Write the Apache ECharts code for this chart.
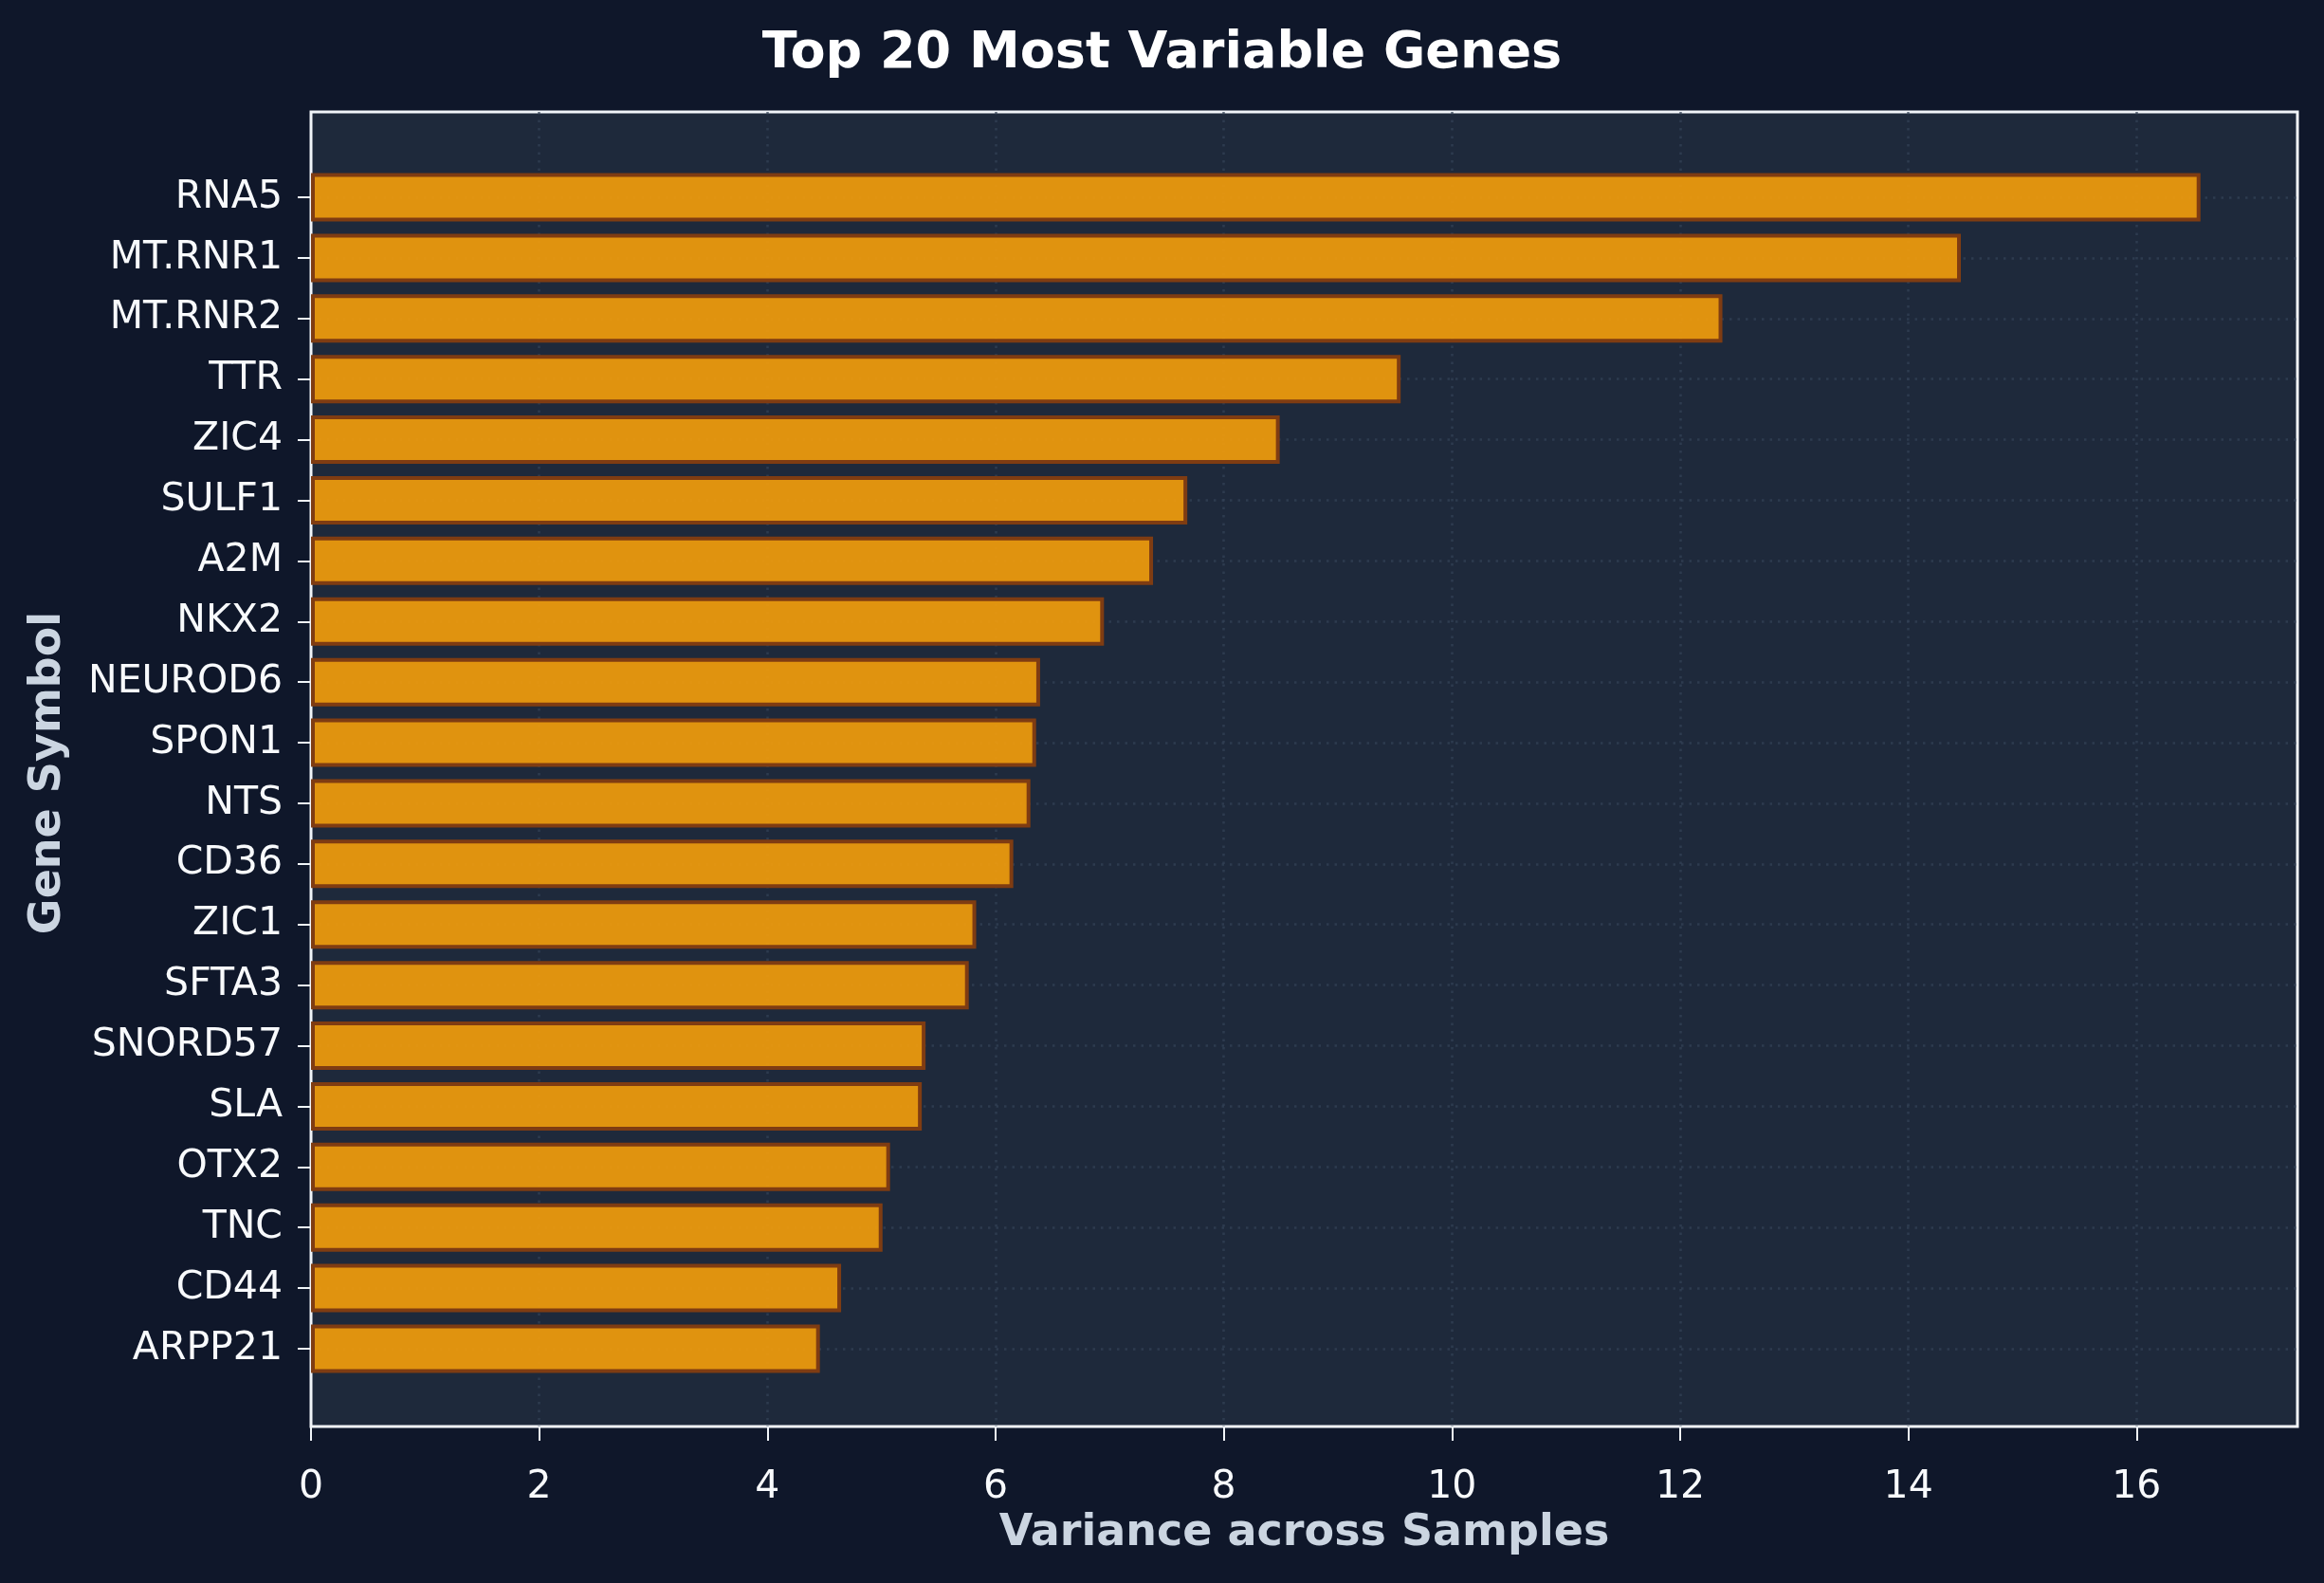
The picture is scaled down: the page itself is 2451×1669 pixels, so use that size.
<!DOCTYPE html>
<html>
<head>
<meta charset="utf-8">
<script src="https://cdn.jsdelivr.net/npm/echarts@6/dist/echarts.min.js"></script>
<style>
  html, body { margin: 0; padding: 0; background: #0f172a; }
  #chart { width: 2451px; height: 1669px; }
</style>
</head>
<body>
<div id="chart"></div>
<script>
// gene symbols, top to bottom
var genes = ['RNA5', 'MT.RNR1', 'MT.RNR2', 'TTR', 'ZIC4', 'SULF1', 'A2M', 'NKX2', 'NEUROD6', 'SPON1',
             'NTS', 'CD36', 'ZIC1', 'SFTA3', 'SNORD57', 'SLA', 'OTX2', 'TNC', 'CD44', 'ARPP21'];
// variance across samples
var variances = [16.56, 14.46, 12.37, 9.55, 8.49, 7.68, 7.38, 6.95, 6.39, 6.355,
                 6.305, 6.155, 5.83, 5.765, 5.386, 5.353, 5.075, 5.009, 4.646, 4.46];
var xTicks = [0, 2, 4, 6, 8, 10, 12, 14, 16];
var xMax = 17.41;

var font = 'DejaVu Sans';
var gridDots = { color: 'rgba(51,65,85,0.75)', width: 2.5, type: [2.5, 6] };

var chart = echarts.init(document.getElementById('chart'));

var option = {
    backgroundColor: '#0f172a',
    animation: false,
    title: {
        text: 'Top 20 Most Variable Genes',
        left: 'center',
        top: 25,
        textStyle: { color: '#ffffff', fontSize: 54, fontWeight: 'bold', fontFamily: font }
    },
    grid: [
        // bar band area: first and last category centres on the edges
        { left: 328, right: 28, top: 208, bottom: 247 },
        // full plot frame
        { left: 328, right: 28, top: 118, bottom: 165, show: true,
          backgroundColor: '#1e293b', borderColor: '#f1f5f9', borderWidth: 3 }
    ],
    xAxis: [
        { gridIndex: 0, type: 'value', min: 0, max: xMax, show: false },
        {
            gridIndex: 1, type: 'value', min: 0, max: xMax, interval: 2,
            name: 'Variance across Samples', nameLocation: 'middle', nameGap: 90,
            nameTextStyle: { color: '#cbd5e1', fontSize: 46, fontWeight: 'bold', fontFamily: font },
            axisLine: { show: false },
            axisTick: { show: true, length: 15, lineStyle: { color: '#f1f5f9', width: 2 } },
            axisLabel: {
                color: '#f8fafc', fontSize: 41, fontFamily: font, margin: 44, showMaxLabel: false,
                formatter: function (v) { return xTicks.indexOf(v) >= 0 ? String(v) : ''; }
            },
            splitLine: { show: true, showMinLine: false, showMaxLine: false, lineStyle: gridDots }
        }
    ],
    yAxis: [
        {
            gridIndex: 0, type: 'category', data: genes, inverse: true, boundaryGap: false,
            name: 'Gene Symbol', nameLocation: 'middle', nameGap: 254,
            nameTextStyle: { color: '#cbd5e1', fontSize: 46, fontWeight: 'bold', fontFamily: font },
            axisLine: { show: false },
            axisTick: { show: true, length: 14, lineStyle: { color: '#f1f5f9', width: 2 } },
            axisLabel: { color: '#f8fafc', fontSize: 41, fontFamily: font, margin: 30 },
            splitLine: { show: true, lineStyle: gridDots }
        },
        { gridIndex: 1, type: 'value', min: 0, max: 1, show: false }
    ],
    series: [{
        type: 'bar',
        xAxisIndex: 0,
        yAxisIndex: 0,
        data: variances,
        barWidth: 51,
        clip: false,
        itemStyle: {
            color: 'rgba(245,158,11,0.9)',
            borderColor: '#7f3c12',
            borderWidth: 4
        }
    }]
};

chart.setOption(option);
</script>
</body>
</html>
